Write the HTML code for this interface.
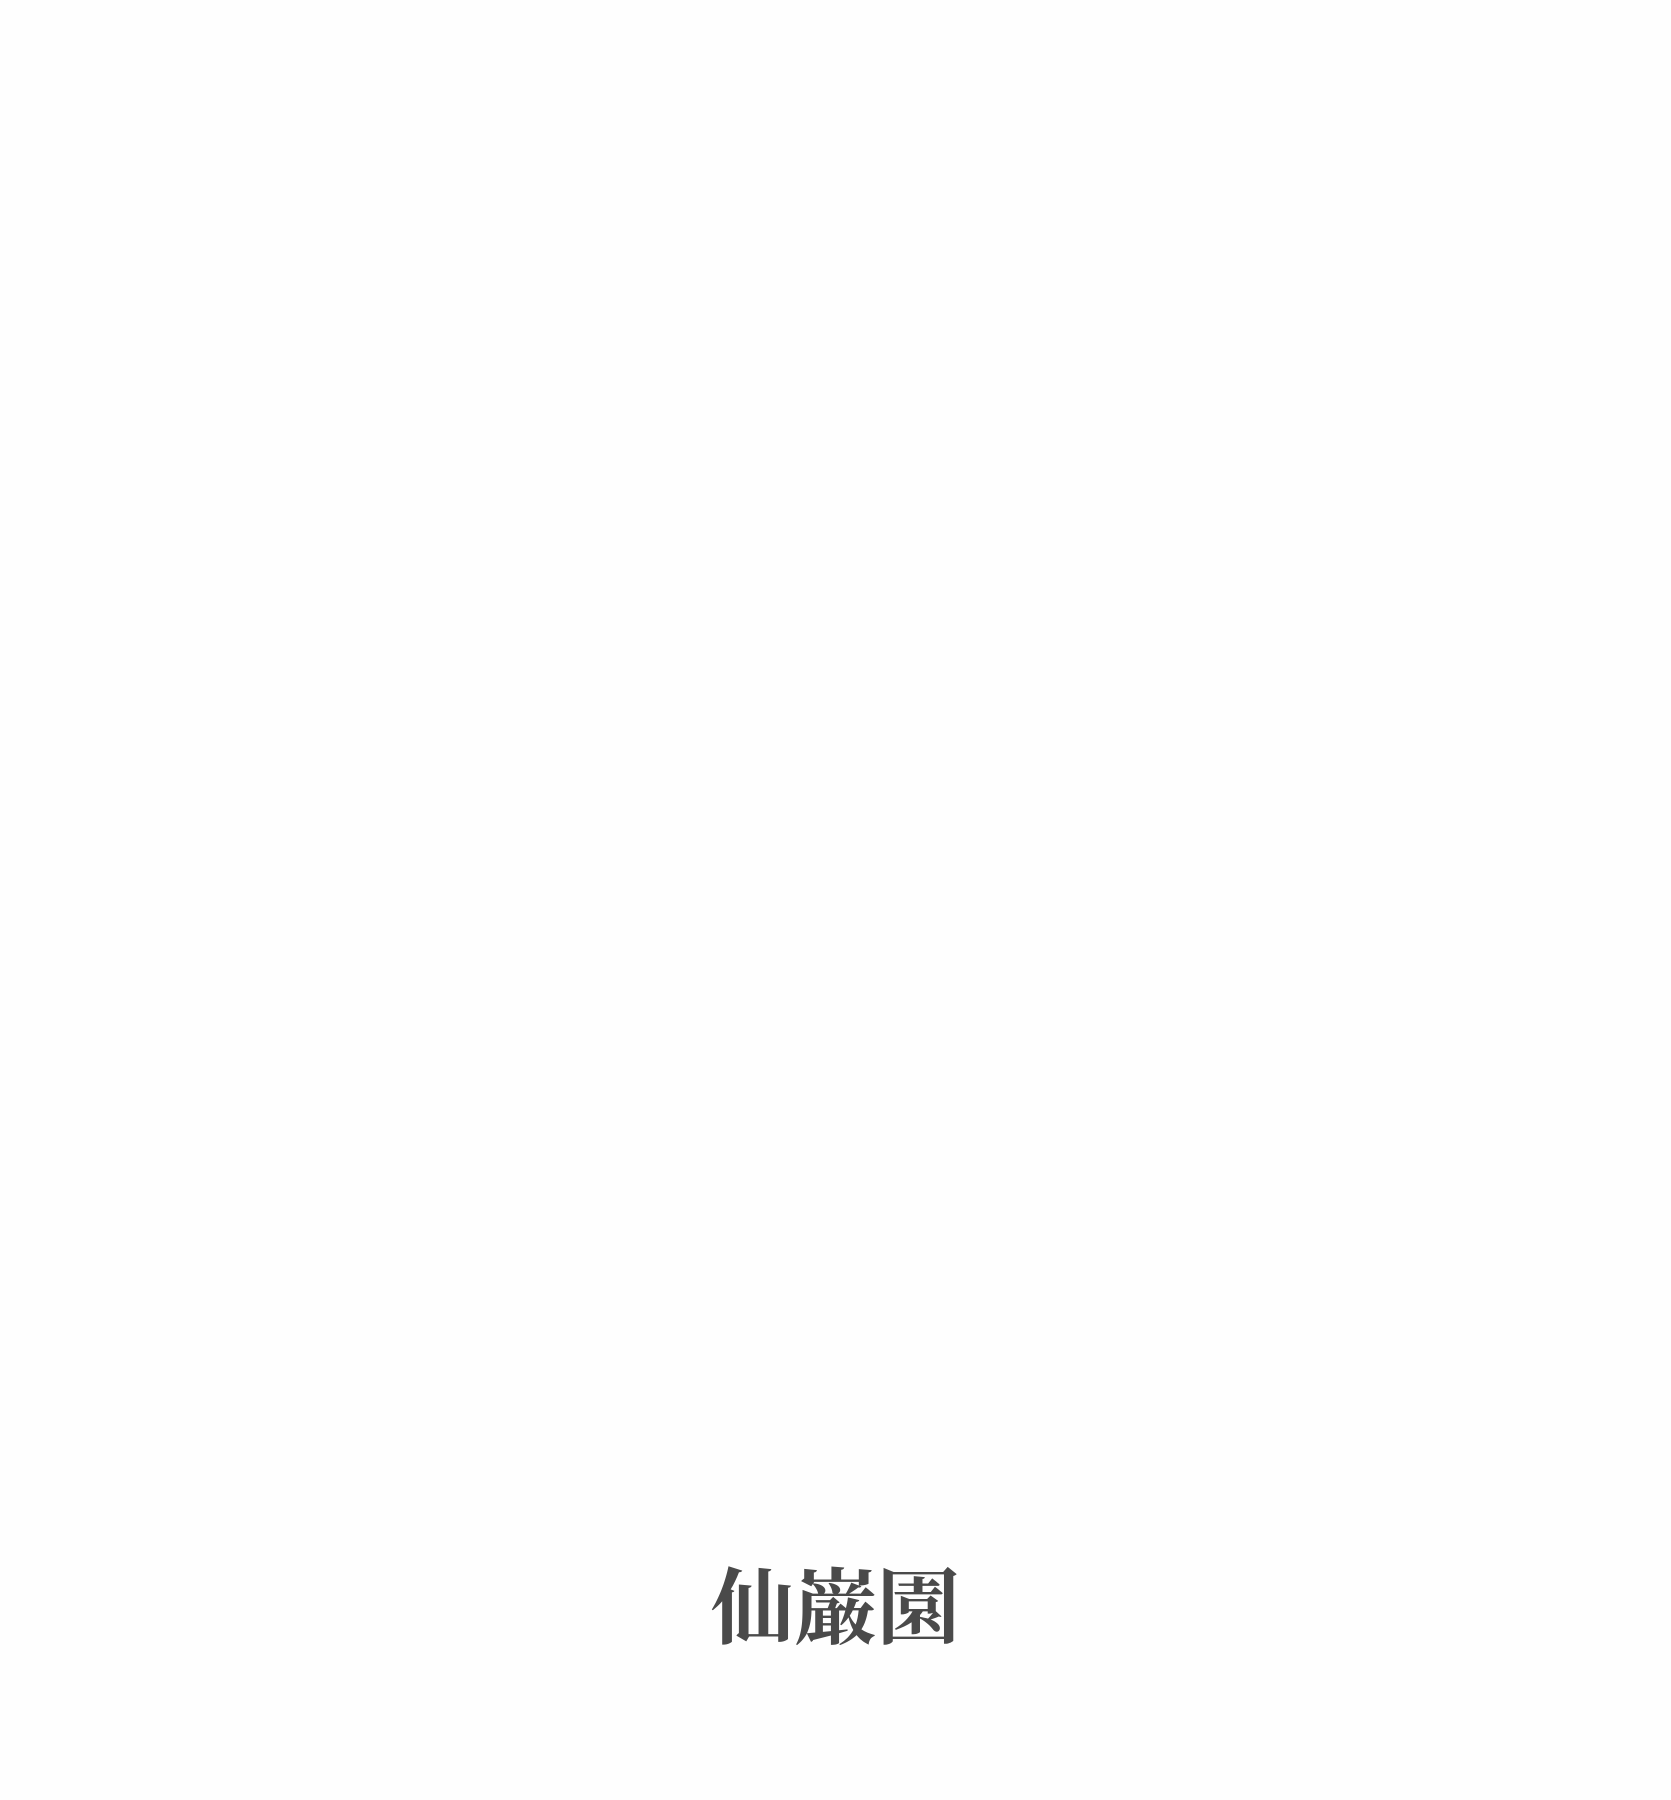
<!DOCTYPE html>
<html><head><meta charset="utf-8"><style>
html,body{margin:0;padding:0;background:#fefefe;width:1671px;height:1800px;overflow:hidden}
.t{position:absolute;left:0;width:1671px;top:1568px;text-align:center;font-family:"Liberation Serif","Noto Serif CJK SC","Noto Serif CJK JP",serif;font-weight:bold;font-size:83px;line-height:83px;color:#4a4a4a}
</style></head><body>
<div class="t">仙巌園</div>
</body></html>
